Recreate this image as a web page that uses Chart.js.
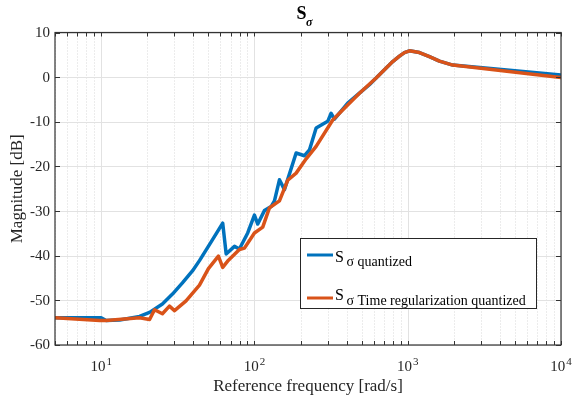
<!DOCTYPE html>
<html>
<head>
<meta charset="utf-8">
<script src="https://cdn.jsdelivr.net/npm/chart.js@4/dist/chart.umd.min.js"></script>
<style>
html,body{margin:0;padding:0;background:#fff;}
#wrap{width:573px;height:403px;position:relative;}
</style>
</head>
<body>
<div id="wrap"><canvas id="c" width="573" height="403"></canvas></div>
<script>
// ---- data ----
const blueFreq = [5, 10, 10.8, 13.2, 17.8, 20.7, 25.1, 29.2, 33.9, 39.4, 43.8, 52.2, 62.1, 65.4, 74.1, 79.8, 90.4, 100, 105.1, 116.2, 128.5, 135.1, 145.6, 157, 187.1, 212, 228.5, 252.7, 300.8, 316.5, 332.6, 406.1, 484.2, 562.6, 622.2, 798.5, 883.2, 951.7, 1026, 1192, 1386, 1610, 1967, 10000];
const blueMag  = [-53.9, -53.9, -54.5, -54.4, -53.6, -52.7, -50.8, -48.6, -46.1, -43.4, -41.1, -36.9, -32.7, -39.6, -37.9, -38.5, -34.9, -30.9, -32.9, -29.9, -29.0, -27.7, -23.0, -25.2, -17.0, -17.6, -16.3, -11.4, -9.9, -8.1, -9.4, -5.8, -3.6, -1.7, -0.2, 3.5, 4.7, 5.5, 5.9, 5.5, 4.6, 3.6, 2.7, 0.5];
const orangeFreq = [5, 9.8, 10.8, 17.8, 20.7, 22.3, 25.1, 27.9, 30.1, 35.8, 43.8, 50.1, 58.2, 62.1, 67.7, 79.8, 86.1, 100, 113.3, 119.2, 125.3, 145.6, 164.9, 187.1, 217.5, 252.7, 324.2, 396.5, 484.2, 622.2, 798.5, 883.2, 951.7, 1026, 1192, 1386, 1610, 1967, 10000];
const orangeMag  = [-53.9, -54.5, -54.5, -53.9, -54.3, -52.1, -53.0, -51.3, -52.3, -50.1, -46.6, -42.9, -40.1, -42.6, -41.0, -38.6, -38.3, -34.9, -33.6, -31.4, -29.3, -27.7, -23.1, -21.5, -18.3, -15.5, -9.6, -6.6, -3.6, -0.2, 3.5, 4.7, 5.5, 5.9, 5.5, 4.6, 3.6, 2.7, -0.1];
const xTickValues = [10, 100, 1000, 10000];
const xTickExponents = ['1', '2', '3', '4'];
const yTicks = [-60, -50, -40, -30, -20, -10, 0, 10];
const titleMain = 'S', titleSub = 'σ';
const seriesMain = 'S';
const seriesSubs = ['σ quantized', 'σ Time regularization quantized'];
const xLabel = 'Reference frequency [rad/s]';
const yLabel = 'Magnitude [dB]';
const colors = ['#0072BD', '#D95319'];

const FONT = '"Liberation Serif", "Times New Roman", serif';
const TXT = '#262626';

function minorValues(){
  const out = [];
  for (let d = 1; d <= 1000; d *= 10)
    for (let m = 2; m <= 9; m++) { const v = m*d; if (v >= 5 && v < 10000) out.push(v); }
  return out;
}

const axesPlugin = {
  id: 'matlabAxes',
  beforeDatasetsDraw(chart){
    const {ctx, chartArea:a, scales:{x, y}} = chart;
    ctx.save();
    ctx.lineWidth = 1;
    ctx.strokeStyle = '#d9d9d9';
    ctx.setLineDash([1, 2]);
    minorValues().forEach(v => {
      const px = Math.round(x.getPixelForValue(v)) + 0.5;
      ctx.beginPath(); ctx.moveTo(px, a.top); ctx.lineTo(px, a.bottom); ctx.stroke();
    });
    ctx.setLineDash([]);
    ctx.strokeStyle = '#e2e2e2';
    xTickValues.forEach(v => {
      const px = Math.round(x.getPixelForValue(v)) + 0.5;
      ctx.beginPath(); ctx.moveTo(px, a.top); ctx.lineTo(px, a.bottom); ctx.stroke();
    });
    yTicks.forEach(v => {
      const py = Math.round(y.getPixelForValue(v)) + 0.5;
      ctx.beginPath(); ctx.moveTo(a.left, py); ctx.lineTo(a.right, py); ctx.stroke();
    });
    ctx.restore();
  },
  afterDraw(chart){
    const {ctx, chartArea:a, scales:{x, y}} = chart;
    ctx.save();
    ctx.strokeStyle = '#333333';
    ctx.lineWidth = 1.2;
    ctx.strokeRect(a.left, a.top, a.right - a.left, a.bottom - a.top);
    ctx.lineWidth = 1;
    const tl = 4;
    const allX = minorValues().concat(xTickValues);
    allX.forEach(v => {
      const px = Math.round(x.getPixelForValue(v)) + 0.5;
      ctx.beginPath();
      ctx.moveTo(px, a.bottom); ctx.lineTo(px, a.bottom - tl);
      ctx.moveTo(px, a.top); ctx.lineTo(px, a.top + tl);
      ctx.stroke();
    });
    yTicks.forEach(v => {
      const py = Math.round(y.getPixelForValue(v)) + 0.5;
      ctx.beginPath();
      ctx.moveTo(a.left, py); ctx.lineTo(a.left + 5, py);
      ctx.moveTo(a.right, py); ctx.lineTo(a.right - 5, py);
      ctx.stroke();
    });
    ctx.fillStyle = TXT;
    ctx.font = '15px ' + FONT;
    ctx.textAlign = 'right';
    ctx.textBaseline = 'middle';
    yTicks.forEach(v => {
      ctx.fillText(String(v), a.left - 5, y.getPixelForValue(v) + 0.5);
    });
    ctx.textBaseline = 'alphabetic';
    ctx.textAlign = 'left';
    xTickValues.forEach((v, i) => {
      const px = x.getPixelForValue(v);
      ctx.font = '15px ' + FONT;
      const w1 = ctx.measureText('10').width;
      ctx.font = '11px ' + FONT;
      const w2 = ctx.measureText(xTickExponents[i]).width;
      const start = px - (w1 + w2 + 1) / 2;
      ctx.font = '15px ' + FONT;
      ctx.fillText('10', start, 370.5);
      ctx.font = '11px ' + FONT;
      ctx.fillText(xTickExponents[i], start + w1 + 1, 364.5);
    });
    ctx.font = '17px ' + FONT;
    ctx.textAlign = 'center';
    ctx.fillText(xLabel, (a.left + a.right) / 2, 390.5);
    ctx.save();
    ctx.translate(18, (a.top + a.bottom) / 2);
    ctx.rotate(-Math.PI / 2);
    ctx.textBaseline = 'middle';
    ctx.fillText(yLabel, 0, 0);
    ctx.restore();
    ctx.textAlign = 'left';
    ctx.font = 'bold 18px ' + FONT;
    ctx.fillStyle = '#000';
    ctx.fillText(titleMain, 296.5, 18.5);
    ctx.font = 'italic bold 12px ' + FONT;
    ctx.fillText(titleSub, 306, 25.5);
    const lx = 300.5, ly = 238.5, lw = 236, lh = 70;
    ctx.fillStyle = '#fff';
    ctx.fillRect(lx, ly, lw, lh);
    ctx.strokeStyle = '#262626';
    ctx.lineWidth = 1;
    ctx.strokeRect(lx, ly, lw, lh);
    const rows = [{line:255, sBase:261.5, subBase:266}, {line:298, sBase:300, subBase:305}];
    rows.forEach((r, i) => {
      ctx.strokeStyle = colors[i];
      ctx.lineWidth = 3;
      ctx.beginPath(); ctx.moveTo(307, r.line); ctx.lineTo(333, r.line); ctx.stroke();
      ctx.fillStyle = '#000';
      ctx.font = '16px ' + FONT;
      ctx.fillText(seriesMain, 335, r.sBase);
      ctx.font = '14px ' + FONT;
      ctx.fillText(seriesSubs[i], 346.5, r.subBase);
    });
    ctx.restore();
  }
};

const toPts = (fx, my) => fx.map((f, i) => ({x: f, y: my[i]}));

new Chart(document.getElementById('c'), {
  type: 'line',
  data: {
    datasets: [
      {label: 'S σ quantized', data: toPts(blueFreq, blueMag), borderColor: colors[0], borderWidth: 3.5, pointRadius: 0, tension: 0, fill: false, order: 2},
      {label: 'S σ Time regularization quantized', data: toPts(orangeFreq, orangeMag), borderColor: colors[1], borderWidth: 3.5, pointRadius: 0, tension: 0, fill: false, order: 1}
    ]
  },
  options: {
    responsive: false,
    animation: false,
    devicePixelRatio: 1,
    layout: {padding: {left: 55, right: 12, top: 32.5, bottom: 58}},
    plugins: {legend: {display: false}, title: {display: false}, tooltip: {enabled: false}},
    scales: {
      x: {type: 'logarithmic', min: 5, max: 10000, display: false},
      y: {type: 'linear', min: -60, max: 10, display: false}
    },
    elements: {line: {borderJoinStyle: 'round', borderCapStyle: 'round'}}
  },
  plugins: [axesPlugin]
});
</script>
</body>
</html>
